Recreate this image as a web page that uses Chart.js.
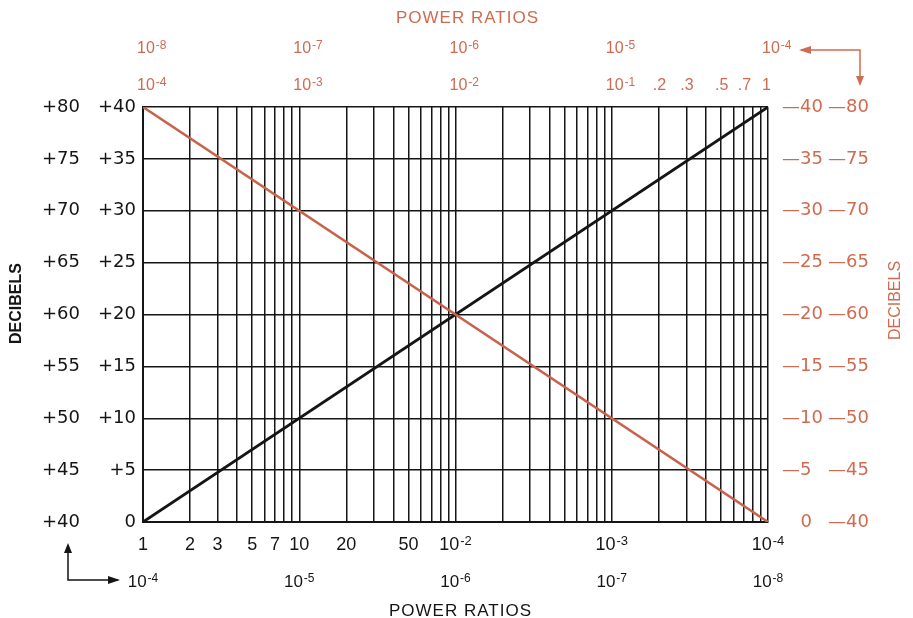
<!DOCTYPE html>
<html>
<head>
<meta charset="utf-8">
<script src="https://cdn.jsdelivr.net/npm/chart.js@4.4.0/dist/chart.umd.min.js"></script>
<style>
  html, body { margin: 0; padding: 0; background: #fff; }
  #wrap { width: 913px; height: 618px; }
</style>
</head>
<body>
<div id="wrap"><canvas id="dbChart" width="913" height="618"></canvas></div>
<script>
// grid of the log paper: power ratio (x) and decibels (y)
const ratioGrid = [1, 2, 3, 4, 5, 6, 7, 8, 9,
  10, 20, 30, 40, 50, 60, 70, 80, 90,
  100, 200, 300, 400, 500, 600, 700, 800, 900,
  1000, 2000, 3000, 4000, 5000, 6000, 7000, 8000, 9000, 10000];
const dbGrid = [0, 5, 10, 15, 20, 25, 30, 35, 40];

// the two conversion lines
const gainLine = [{ x: 1, y: 0 }, { x: 10000, y: 40 }];
const lossLine = [{ x: 1, y: 40 }, { x: 10000, y: 0 }];

// tick labels ("^" marks the exponent)
const bottomTicks = [1, 2, 3, 5, 7, 10, 20, 50, 100, 1000, 10000];
const bottomLabels = ["1", "2", "3", "5", "7", "10", "20", "50", "10^-2", "10^-3", "10^-4"];
const bottomTicks2 = [1, 10, 100, 1000, 10000];
const bottomLabels2 = ["10^-4", "10^-5", "10^-6", "10^-7", "10^-8"];
const topTicks = [1, 10, 100, 1000, 10000];
const topLabels = ["10^-8", "10^-7", "10^-6", "10^-5", "10^-4"];
const topTicks2 = [1, 10, 100, 1000, 2000, 3000, 5000, 7000, 10000];
const topLabels2 = ["10^-4", "10^-3", "10^-2", "10^-1", ".2", ".3", ".5", ".7", "1"];
const leftInner = ["0", "+5", "+10", "+15", "+20", "+25", "+30", "+35", "+40"];
const leftOuter = ["+40", "+45", "+50", "+55", "+60", "+65", "+70", "+75", "+80"];
const rightInner = ["0", "\u20145", "\u201410", "\u201415", "\u201420", "\u201425", "\u201430", "\u201435", "\u201440"];
const rightOuter = ["\u201440", "\u201445", "\u201450", "\u201455", "\u201460", "\u201465", "\u201470", "\u201475", "\u201480"];

const RED = "#cf6b50";
const INK = "#151515";
const FONT = "'Liberation Sans', Arial, sans-serif";
const SIDE_FONT = "'DejaVu Sans', sans-serif";

function drawLabel(ctx, text, x, y, align, size, family) {
  const fam = family || FONT;
  const parts = text.split("^");
  const small = Math.round(size * 0.72);
  ctx.font = size + "px " + fam;
  const w1 = ctx.measureText(parts[0]).width;
  let w2 = 0;
  if (parts[1]) {
    ctx.font = small + "px " + fam;
    w2 = ctx.measureText(parts[1]).width + 1;
  }
  let x0 = x;
  if (align === "center") x0 = x - (w1 + w2) / 2;
  if (align === "right") x0 = x - w1 - w2;
  ctx.textAlign = "left";
  ctx.textBaseline = "middle";
  ctx.font = size + "px " + fam;
  ctx.fillText(parts[0], x0, y);
  if (parts[1]) {
    ctx.font = small + "px " + fam;
    ctx.fillText(parts[1], x0 + w1 + 1, y - size * 0.18);
  }
}

function arrowHead(ctx, x, y, dir) {
  ctx.beginPath();
  if (dir === "up") { ctx.moveTo(x, y); ctx.lineTo(x - 4, y + 10); ctx.lineTo(x + 4, y + 10); }
  if (dir === "down") { ctx.moveTo(x, y); ctx.lineTo(x - 4, y - 10); ctx.lineTo(x + 4, y - 10); }
  if (dir === "right") { ctx.moveTo(x, y); ctx.lineTo(x - 12, y - 4); ctx.lineTo(x - 12, y + 4); }
  if (dir === "left") { ctx.moveTo(x, y); ctx.lineTo(x + 12, y - 4); ctx.lineTo(x + 12, y + 4); }
  ctx.closePath();
  ctx.fill();
}

const paperLabels = {
  id: "paperLabels",
  afterDraw(chart) {
    const ctx = chart.ctx;
    const xs = chart.scales.x;
    const ys = chart.scales.y;
    const a = chart.chartArea;
    ctx.save();

    // bottom (black)
    ctx.fillStyle = INK;
    bottomTicks.forEach((v, i) => drawLabel(ctx, bottomLabels[i], xs.getPixelForValue(v), a.bottom + 23, "center", 18));
    bottomTicks2.forEach((v, i) => drawLabel(ctx, bottomLabels2[i], xs.getPixelForValue(v), a.bottom + 60, "center", 17));

    // left decibels (black)
    dbGrid.forEach((v, i) => {
      drawLabel(ctx, leftInner[i], a.left - 7, ys.getPixelForValue(v), "right", 18, SIDE_FONT);
      drawLabel(ctx, leftOuter[i], a.left - 63, ys.getPixelForValue(v), "right", 18, SIDE_FONT);
    });

    ctx.font = "17px " + FONT;
    ctx.letterSpacing = "1px";
    ctx.textAlign = "center";
    ctx.textBaseline = "middle";
    ctx.fillText("POWER RATIOS", (a.left + a.right) / 2 + 5, a.bottom + 89);
    ctx.letterSpacing = "0px";

    ctx.save();
    ctx.translate(17, (a.top + a.bottom) / 2 - 11);
    ctx.rotate(-Math.PI / 2);
    ctx.font = "bold 16px " + FONT;
    ctx.fillText("DECIBELS", 0, 0);
    ctx.restore();

    // bottom-left arrow
    ctx.strokeStyle = INK;
    ctx.lineWidth = 1.5;
    const ax = a.left - 75;
    const ay = a.bottom + 58;
    ctx.beginPath();
    ctx.moveTo(ax, a.bottom + 24);
    ctx.lineTo(ax, ay);
    ctx.lineTo(a.left - 25, ay);
    ctx.stroke();
    arrowHead(ctx, ax, a.bottom + 21, "up");
    arrowHead(ctx, a.left - 23, ay, "right");

    // top and right (red)
    ctx.fillStyle = RED;
    topTicks.forEach((v, i) => drawLabel(ctx, topLabels[i], xs.getPixelForValue(v) - 6, a.top - 58, "left", 16));
    topTicks2.forEach((v, i) => drawLabel(ctx, topLabels2[i], xs.getPixelForValue(v) - 6, a.top - 21, "left", 16));

    dbGrid.forEach((v, i) => {
      const y = ys.getPixelForValue(v);
      if (rightInner[i] === "0") drawLabel(ctx, rightInner[i], a.right + 44, y, "right", 18, SIDE_FONT);
      else drawLabel(ctx, rightInner[i], a.right + 14, y, "left", 18, SIDE_FONT);
      drawLabel(ctx, rightOuter[i], a.right + 60, y, "left", 18, SIDE_FONT);
    });

    ctx.font = "17px " + FONT;
    ctx.letterSpacing = "1px";
    ctx.textAlign = "center";
    ctx.textBaseline = "middle";
    ctx.fillText("POWER RATIOS", (a.left + a.right) / 2 + 12, 18);
    ctx.letterSpacing = "0px";

    ctx.save();
    ctx.translate(896, (a.top + a.bottom) / 2 - 14);
    ctx.rotate(-Math.PI / 2);
    ctx.font = "16px " + FONT;
    ctx.fillText("DECIBELS", 0, 0);
    ctx.restore();

    // top-right arrow
    ctx.strokeStyle = RED;
    const rx = a.right + 92;
    const ry = a.top - 57;
    ctx.beginPath();
    ctx.moveTo(a.right + 33, ry);
    ctx.lineTo(rx, ry);
    ctx.lineTo(rx, a.top - 25);
    ctx.stroke();
    arrowHead(ctx, a.right + 31, ry, "left");
    arrowHead(ctx, rx, a.top - 21, "down");

    ctx.restore();
  }
};

new Chart(document.getElementById("dbChart"), {
  type: "scatter",
  data: {
    datasets: [
      {
        data: lossLine,
        showLine: true,
        borderColor: "#c9624a",
        borderWidth: 2.5,
        pointRadius: 0
      },
      {
        data: gainLine,
        showLine: true,
        borderColor: INK,
        borderWidth: 2.8,
        pointRadius: 0
      }
    ]
  },
  options: {
    responsive: false,
    animation: false,
    devicePixelRatio: 1,
    layout: { padding: { left: 143, right: 145, top: 107, bottom: 96 } },
    plugins: { legend: { display: false }, tooltip: { enabled: false } },
    scales: {
      x: {
        type: "logarithmic",
        min: 1,
        max: 10000,
        afterBuildTicks: (scale) => { scale.ticks = ratioGrid.map((v) => ({ value: v })); },
        ticks: { display: false },
        grid: { color: INK, lineWidth: 1.5, drawTicks: false },
        border: { color: INK, width: 2 }
      },
      y: {
        min: 0,
        max: 40,
        afterBuildTicks: (scale) => { scale.ticks = dbGrid.map((v) => ({ value: v })); },
        ticks: { display: false },
        grid: { color: INK, lineWidth: 1.5, drawTicks: false },
        border: { color: INK, width: 2 }
      }
    }
  },
  plugins: [paperLabels]
});
</script>
</body>
</html>
